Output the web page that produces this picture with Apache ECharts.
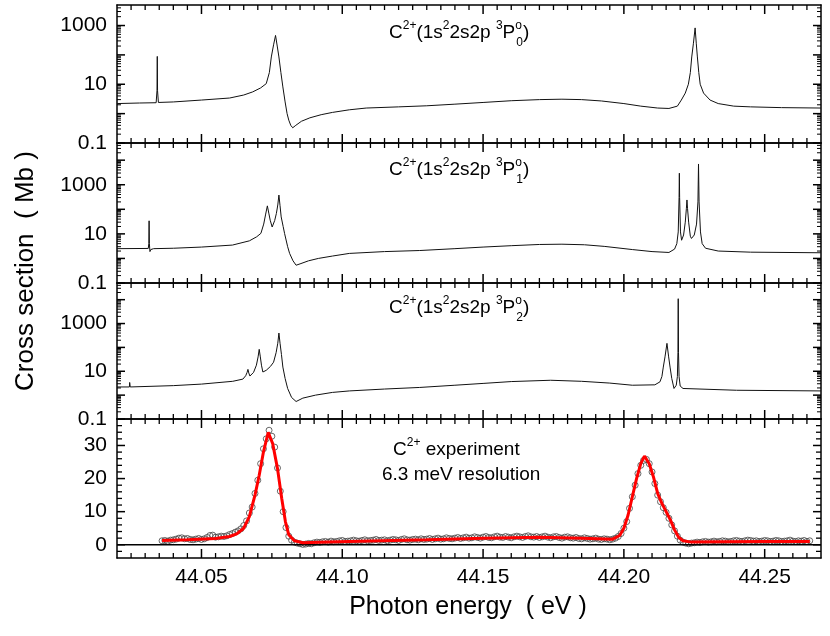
<!DOCTYPE html>
<html>
<head>
<meta charset="utf-8">
<script src="https://cdn.jsdelivr.net/npm/echarts@6/dist/echarts.min.js"></script>
<style>
html, body { margin: 0; padding: 0; background: #fff; }
#chart { width: 830px; height: 636px; }
</style>
</head>
<body>
<div id="chart"></div>
<script>
// theory curves, [photon energy (eV), cross section (Mb)]
const p0Curve = [
  [44.0200, 2.2], [44.0280, 2.3], [44.0339, 2.35], [44.0342, 6], [44.0343, 89], [44.0344, 6], [44.0347, 2.4],
  [44.0400, 2.5], [44.0500, 2.9], [44.0600, 3.4], [44.0650, 4.3], [44.0682, 5.5], [44.0710, 7.5], [44.0730, 10.5],
  [44.0741, 25], [44.0748, 85], [44.0756, 220], [44.0763, 460], [44.0769, 200], [44.0775, 85], [44.0782, 25],
  [44.0789, 8.1], [44.0797, 2.5], [44.0804, 1.0], [44.0810, 0.6], [44.0817, 0.4], [44.0824, 0.33], [44.0835, 0.4],
  [44.0855, 0.55], [44.0885, 0.72], [44.0925, 0.92], [44.0965, 1.1], [44.1025, 1.35], [44.1085, 1.55], [44.1200, 1.7],
  [44.1300, 1.85], [44.1400, 2.1], [44.1500, 2.4], [44.1600, 2.75], [44.1700, 3.0], [44.1780, 3.1], [44.1850, 3.0],
  [44.1920, 2.7], [44.2000, 2.2], [44.2060, 1.8], [44.2120, 1.55], [44.2160, 1.5], [44.2190, 1.8], [44.2204, 2.9],
  [44.2218, 5], [44.2229, 10], [44.2236, 25], [44.2241, 85], [44.2247, 250], [44.2253, 830], [44.2257, 250],
  [44.2261, 85], [44.2266, 25], [44.2271, 10], [44.2283, 5], [44.2306, 2.9], [44.2335, 2.2], [44.2390, 1.8],
  [44.2450, 1.7], [44.2560, 1.6], [44.2700, 1.55]
];
const p1Curve = [
  [44.0200, 2.5], [44.0311, 2.55], [44.0313, 4], [44.0314, 34], [44.0315, 4], [44.0317, 1.9], [44.0320, 2.3],
  [44.0330, 2.5], [44.0400, 2.6], [44.0500, 2.9], [44.0610, 3.5], [44.0670, 5.2], [44.0696, 7.6], [44.0711, 10.5],
  [44.0721, 25], [44.0728, 64], [44.0734, 138], [44.0739, 70], [44.0744, 36], [44.0751, 19], [44.0760, 35],
  [44.0766, 68], [44.0771, 150], [44.0775, 380], [44.0779, 140], [44.0783, 49], [44.0790, 20], [44.0795, 10.5],
  [44.0806, 3], [44.0813, 1.6], [44.0825, 0.8], [44.0836, 0.53], [44.0850, 0.6], [44.0880, 0.8], [44.0915, 1.0],
  [44.0965, 1.25], [44.1025, 1.6], [44.1150, 1.9], [44.1275, 2.1], [44.1400, 2.5], [44.1500, 2.9], [44.1600, 3.3],
  [44.1700, 3.7], [44.1780, 3.8], [44.1860, 3.6], [44.1930, 3.1], [44.2030, 2.3], [44.2100, 1.9], [44.2160, 1.75],
  [44.2180, 2.4], [44.2188, 4], [44.2193, 12], [44.2196, 300], [44.2197, 2950], [44.2198, 300], [44.2201, 12],
  [44.2205, 5.5], [44.2212, 9], [44.2218, 30], [44.2222, 110], [44.2224, 240], [44.2226, 110], [44.2230, 30],
  [44.2236, 8], [44.2240, 6.5], [44.2250, 9], [44.2258, 25], [44.2263, 200], [44.2265, 7000], [44.2267, 200],
  [44.2272, 12], [44.2278, 4], [44.2290, 2.6], [44.2335, 2.0], [44.2450, 1.8], [44.2700, 1.7]
];
const p2Curve = [
  [44.0200, 2.2], [44.0244, 2.2], [44.0245, 3.4], [44.0247, 2.2], [44.0400, 2.5], [44.0500, 2.9], [44.0611, 3.8],
  [44.0647, 4.7], [44.0657, 6.5], [44.0662, 9], [44.0665, 12], [44.0668, 8.5], [44.0672, 6.3], [44.0685, 9],
  [44.0695, 18], [44.0701, 40], [44.0705, 83], [44.0709, 40], [44.0713, 18], [44.0718, 9.3], [44.0730, 11],
  [44.0745, 16], [44.0756, 24], [44.0765, 60], [44.0771, 150], [44.0775, 400], [44.0779, 150], [44.0784, 50],
  [44.0789, 15], [44.0797, 5], [44.0806, 1.9], [44.0820, 0.8], [44.0836, 0.54], [44.0860, 0.75], [44.0905, 1.0],
  [44.0965, 1.3], [44.1025, 1.5], [44.1150, 1.8], [44.1275, 2.1], [44.1400, 2.6], [44.1500, 3.1], [44.1600, 3.7],
  [44.1740, 4.2], [44.1850, 3.8], [44.1950, 3.2], [44.2030, 2.6], [44.2110, 2.7], [44.2128, 3.6], [44.2135, 6],
  [44.2140, 15], [44.2146, 40], [44.2153, 148], [44.2159, 40], [44.2164, 15], [44.2170, 5], [44.2178, 1.9],
  [44.2186, 2.6], [44.2190, 6], [44.2192, 60], [44.2193, 11000], [44.2194, 60], [44.2196, 6], [44.2200, 2.4],
  [44.2210, 1.9], [44.2400, 1.6], [44.2700, 1.5]
];

// experiment: counts every 1 meV starting at expStart
const expStart = 44.036;
const expStep = 0.001;
const expCounts = [
  1.2, 1.3, 1.1, 1.4, 1.5, 1.7, 2.0, 2.1, 1.8, 1.9,
  1.6, 1.5, 1.7, 1.9, 1.6, 1.8, 2.2, 2.8, 2.9, 2.3,
  2.4, 2.6, 2.5, 2.7, 3.1, 3.4, 3.8, 4.2, 4.8, 5.8,
  7.2, 9.6, 11.4, 15.5, 19.5, 24.5, 29.0, 32.0, 34.6, 32.8,
  29.5, 23.2, 16.2, 10.0, 5.2, 2.6, 1.4, 0.8, 0.5, 0.3,
  0.1, 0.2, 0.4, 0.3, 0.6, 0.8, 0.7, 0.9, 1.0, 0.8,
  1.1, 0.9, 1.0, 1.2, 1.3, 1.0, 1.1, 1.2, 1.4, 1.2,
  1.1, 1.3, 1.5, 1.2, 1.3, 1.4, 1.6, 1.3, 1.4, 1.5,
  1.2, 1.4, 1.6, 1.5, 1.3, 1.6, 1.8, 1.5, 1.4, 1.6,
  1.7, 1.5, 1.8, 1.6, 1.7, 1.9, 1.6, 1.8, 2.0, 1.7,
  1.8, 2.1, 1.9, 1.8, 2.0, 2.2, 1.9, 2.1, 2.3, 2.0,
  2.1, 2.4, 2.2, 2.0, 2.3, 2.5, 2.2, 2.1, 2.4, 2.6,
  2.3, 2.2, 2.5, 2.3, 2.1, 2.4, 2.6, 2.4, 2.2, 2.5,
  2.7, 2.4, 2.3, 2.5, 2.2, 2.4, 2.6, 2.3, 2.1, 2.4,
  2.5, 2.2, 2.0, 2.3, 2.4, 2.1, 2.0, 2.2, 1.9, 1.8,
  2.1, 1.9, 1.7, 1.8, 2.0, 1.7, 1.6, 1.8, 1.7, 1.5,
  1.7, 2.0, 2.5, 3.4, 5.0, 7.0, 11.0, 14.5, 18.0, 21.5,
  24.0, 25.5, 25.8, 24.5, 22.0, 18.5, 15.0, 13.0, 11.2, 9.8,
  8.0, 6.0, 4.2, 2.6, 1.4, 0.8, 0.5, 0.3, 0.5, 0.6,
  0.8, 0.7, 0.9, 1.0, 0.8, 0.9, 1.1, 0.9, 1.0, 1.2,
  1.1, 0.9, 1.0, 1.2, 1.3, 1.1, 1.0, 1.2, 1.4, 1.3,
  1.1, 1.2, 1.0, 1.1, 1.3, 1.2, 1.0, 1.1, 1.3, 1.2,
  1.0, 1.1, 1.2, 1.4, 1.1, 1.0, 1.2, 1.1, 1.3, 1.0,
  1.2
];
// fit (red line)
const fitCurve = [
  [44.0360, 1.3], [44.0450, 1.5], [44.0550, 1.9], [44.0600, 2.5], [44.0625, 3.3], [44.0650, 5.0], [44.0670, 8.5],
  [44.0690, 15], [44.0705, 21], [44.0720, 28], [44.0737, 34], [44.0753, 30.5], [44.0770, 23], [44.0785, 14],
  [44.0798, 7], [44.0810, 3], [44.0830, 1.2], [44.0860, 0.6], [44.0950, 0.8], [44.1100, 1.1], [44.1300, 1.5],
  [44.1500, 2.0], [44.1700, 2.3], [44.1850, 2.0], [44.1960, 1.7], [44.1985, 2.8], [44.2000, 5], [44.2015, 9],
  [44.2030, 14.5], [44.2045, 20], [44.2060, 24.5], [44.2073, 26.8], [44.2090, 24.5], [44.2105, 20.5],
  [44.2120, 15.5], [44.2135, 12.5], [44.2150, 10], [44.2165, 7.5], [44.2180, 4.5], [44.2195, 2.2], [44.2210, 1.2],
  [44.2240, 0.8], [44.2350, 0.9], [44.2500, 1.0], [44.2660, 1.0]
];
const zeroLine = [[44.02, 0], [44.27, 0]];
const termSubs = ['0', '1', '2'];
const logMax = [5000, 50000, 50000];

const expPoints = expCounts.map((v, i) => [+(expStart + i * expStep).toFixed(4), v]);

const FONT = '"Liberation Sans", Arial, Helvetica, sans-serif';
const chart = echarts.init(document.getElementById('chart'));

const gridBoxes = [
  { left: 117, top: 5, width: 704, height: 138 },
  { left: 117, top: 143, width: 704, height: 140 },
  { left: 117, top: 283, width: 704, height: 136 },
  { left: 117, top: 419, width: 704, height: 139 }
];
const titleTops = [21, 158, 296];

const st = (w) => ({ color: '#000', width: w });

// echarts' own ticks do not show up in this page, so they are drawn below
// as graphic lines placed through convertToPixel
function xAx(gi, pos, showLabel) {
  return {
    type: 'value', gridIndex: gi, position: pos, min: 44.02, max: 44.27, splitNumber: 5,
    axisLine: { show: true, onZero: false, lineStyle: st(1.5) },
    axisTick: { show: false },
    splitLine: { show: false },
    axisLabel: {
      show: showLabel, showMinLabel: false, showMaxLabel: false, margin: 9,
      fontSize: 21, fontFamily: FONT, color: '#000',
      formatter: v => v.toFixed(2)
    }
  };
}

// every second decade labelled, the others get a transparent label
function yLog(gi, pos, max, showLabel) {
  return {
    type: 'log', logBase: 10, gridIndex: gi, position: pos, min: 0.1, max: max,
    axisLine: { show: true, onZero: false, lineStyle: st(1.5) },
    axisTick: { show: false },
    splitLine: { show: false },
    axisLabel: {
      show: showLabel, showMaxLabel: false, margin: 10, fontSize: 21, fontFamily: FONT, color: '#000',
      rich: { h: { color: 'rgba(0,0,0,0)', fontSize: 21, fontFamily: FONT } },
      formatter: v => {
        const e = Math.log10(v);
        const r = Math.round(e);
        const txt = r < 0 ? '0.1' : String(Math.round(v));
        if (Math.abs(e - r) > 1e-6 || Math.abs(r % 2) !== 1) return '{h|' + txt + '}';
        return txt;
      }
    }
  };
}

function yLin(gi, pos, showLabel) {
  return {
    type: 'value', gridIndex: gi, position: pos, min: -4, max: 38, splitNumber: 5,
    axisLine: { show: true, onZero: false, lineStyle: st(1.5) },
    axisTick: { show: false },
    splitLine: { show: false },
    axisLabel: {
      show: showLabel, showMinLabel: false, showMaxLabel: false, margin: 10,
      fontSize: 21, fontFamily: FONT, color: '#000'
    }
  };
}

const xAxes = [];
const yAxes = [];
for (let g = 0; g < 4; g++) {
  xAxes.push(xAx(g, 'bottom', g === 3));
  xAxes.push(xAx(g, 'top', false));
  if (g < 3) {
    yAxes.push(yLog(g, 'left', logMax[g], true));
    yAxes.push(yLog(g, 'right', logMax[g], false));
  } else {
    yAxes.push(yLin(g, 'left', true));
    yAxes.push(yLin(g, 'right', false));
  }
}

const theory = [p0Curve, p1Curve, p2Curve].map((d, i) => ({
  type: 'line', xAxisIndex: 2 * i, yAxisIndex: 2 * i, data: d,
  showSymbol: false, symbol: 'none',
  lineStyle: { color: '#111', width: 1 }
}));

chart.setOption({
  animation: false,
  grid: gridBoxes,
  xAxis: xAxes,
  yAxis: yAxes,
  series: theory.concat([
    {
      type: 'line', xAxisIndex: 6, yAxisIndex: 6, data: zeroLine,
      showSymbol: false, symbol: 'none', silent: true,
      lineStyle: { color: '#000', width: 1.5 }
    },
    {
      type: 'scatter', xAxisIndex: 6, yAxisIndex: 6, data: expPoints,
      symbol: 'circle', symbolSize: 6,
      itemStyle: { color: 'rgba(0,0,0,0)', borderColor: '#444', borderWidth: 1 }
    },
    {
      type: 'line', xAxisIndex: 6, yAxisIndex: 6, data: fitCurve,
      showSymbol: false, symbol: 'none',
      lineStyle: { color: '#ff0000', width: 3 }
    }
  ])
});

// ---- texts ----
const rich = () => ({
  m: { fontSize: 19, fontFamily: FONT, color: '#000', lineHeight: 24 },
  sp: { fontSize: 12, fontFamily: FONT, color: '#000', height: 10, lineHeight: 10, verticalAlign: 'top' },
  so: { fontSize: 12, fontFamily: FONT, color: '#000', height: 10, lineHeight: 10, verticalAlign: 'top', width: 1 },
  sb: { fontSize: 12, fontFamily: FONT, color: '#000', height: 4, lineHeight: 4, verticalAlign: 'bottom' }
});
const graphics = termSubs.map((s, i) => ({
  type: 'text', x: 389, y: titleTops[i], silent: true,
  style: {
    text: '{m|C}{sp|2+}{m|(1s}{sp|2}{m|2s2p }{sp|3}{m|P}{so|o}{sb|' + s + '}{m|)}',
    rich: rich(), align: 'left', verticalAlign: 'top'
  }
}));
graphics.push({
  type: 'text', x: 393, y: 438, silent: true,
  style: { text: '{m|C}{sp|2+}{m| experiment}', rich: rich(), align: 'left', verticalAlign: 'top' }
});
graphics.push({
  type: 'text', x: 382, y: 463, silent: true,
  style: { text: '{m|6.3 meV resolution}', rich: rich(), align: 'left', verticalAlign: 'top' }
});
graphics.push({
  type: 'text', x: 468, y: 607, silent: true,
  style: {
    text: 'Photon energy  ( eV )', font: '25px ' + FONT, fill: '#000',
    align: 'center', verticalAlign: 'middle', textAlign: 'center', textVerticalAlign: 'middle'
  }
});
graphics.push({
  type: 'text', x: 26, y: 271, rotation: Math.PI / 2, silent: true,
  style: {
    text: 'Cross section  ( Mb )', font: '26px ' + FONT, fill: '#000',
    align: 'center', verticalAlign: 'middle', textAlign: 'center', textVerticalAlign: 'middle'
  }
});

// ---- tick marks, inward on all four sides of each panel ----
function tickLine(x1, y1, x2, y2, w) {
  return {
    type: 'line', silent: true, z: 50,
    shape: { x1: x1, y1: y1, x2: x2, y2: y2 },
    style: { stroke: '#000', lineWidth: w }
  };
}

// x ticks: major every 0.05 eV, minor every 0.005 eV
for (let g = 0; g < 4; g++) {
  const top = gridBoxes[g].top;
  const bottom = top + gridBoxes[g].height;
  for (let k = 5; k <= 53; k++) {
    const v = 44.0 + k * 0.005;
    if (v <= 44.02 || v >= 44.27) continue;
    const px = chart.convertToPixel({ xAxisIndex: 2 * g }, v);
    const major = k % 10 === 0;
    const len = major ? 9 : 5;
    const w = major ? 1.5 : 1.3;
    ticks(px, bottom, px, bottom - len, w);
    ticks(px, top, px, top + len, w);
  }
}

// y ticks
const leftX = gridBoxes[0].left;
const rightX = gridBoxes[0].left + gridBoxes[0].width;
function yTick(g, v, len, w) {
  const py = chart.convertToPixel({ yAxisIndex: 2 * g }, v);
  ticks(leftX, py, leftX + len, py, w);
  ticks(rightX, py, rightX - len, py, w);
}
for (let g = 0; g < 3; g++) {
  for (let d = -1; d <= 4; d++) {
    const base = Math.pow(10, d);
    if (base < logMax[g]) yTick(g, base, 8, 1.5);
    for (let m = 2; m <= 9; m++) {
      if (m * base < logMax[g]) yTick(g, m * base, 4, 1);
    }
  }
}
for (let v = -2; v <= 36; v += 2) {
  yTick(3, v, v % 10 === 0 ? 8 : 5, v % 10 === 0 ? 1.5 : 1.3);
}

function ticks(x1, y1, x2, y2, w) {
  graphics.push(tickLine(x1, y1, x2, y2, w));
}

chart.setOption({ graphic: graphics });
</script>
</body>
</html>
